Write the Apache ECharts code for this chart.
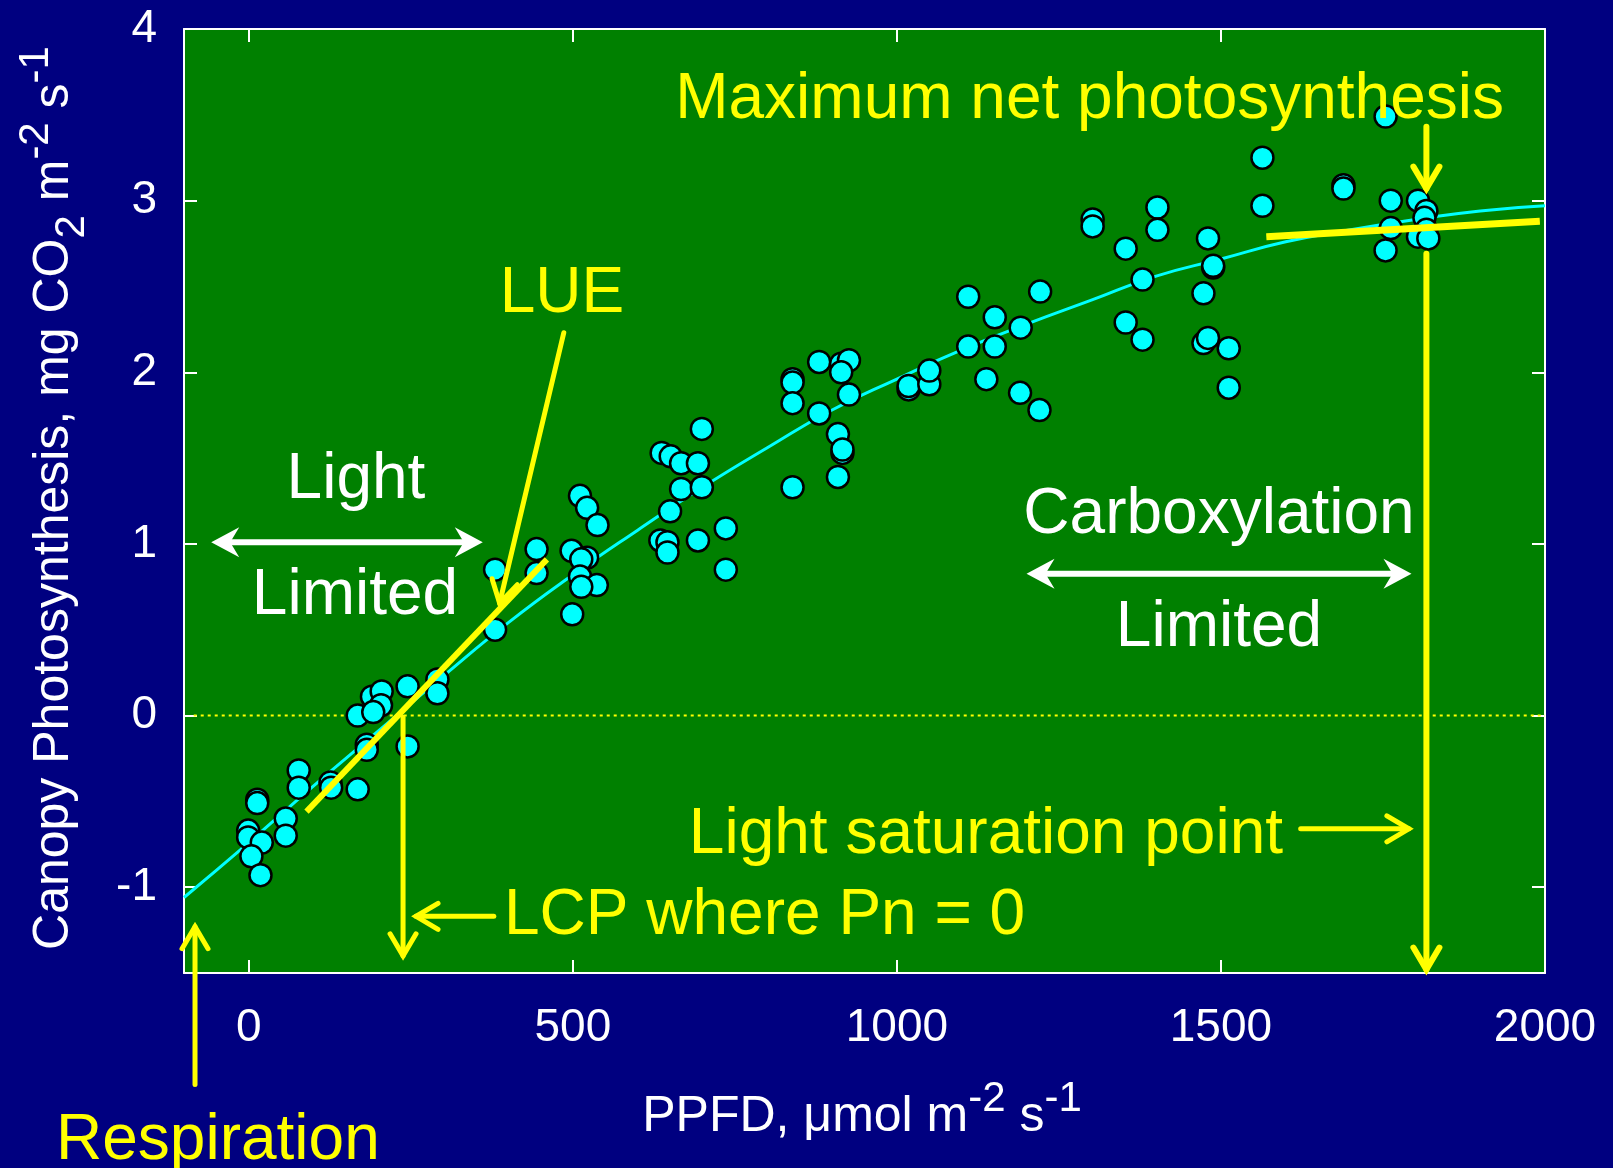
<!DOCTYPE html>
<html>
<head>
<meta charset="utf-8">
<script src="https://cdn.jsdelivr.net/npm/echarts@6/dist/echarts.min.js"></script>
<style>
  html, body { margin: 0; padding: 0; background: #000080; }
  #chart { width: 1613px; height: 1168px; }
</style>
</head>
<body>
<div id="chart"></div>
<script>
const ppfdObs = [
  13, 13, -1, -1, 20, 4, 18, 77, 77, 57, 57, 126, 127, 168, 168, 182, 182, 190, 205, 204, 192, 245, 245, 291, 291,
  380, 380, 444, 444, 511, 522, 538, 498, 522, 513, 511, 537, 513, 499,
  637, 651, 667, 693, 699, 667, 699, 650, 635, 646, 646, 693, 736, 736,
  839, 839, 839, 839, 880, 880, 914, 926, 914, 926, 909, 916, 916, 909, 1018, 1018, 1050, 1050,
  1110, 1151, 1138, 1190, 1220, 1110, 1151, 1191, 1221,
  1302, 1302, 1402, 1402, 1353, 1379, 1353, 1379, 1480, 1488, 1488, 1473, 1473, 1480, 1512, 1512,
  1564, 1564, 1689, 1689, 1762, 1762, 1754, 1804, 1817, 1814, 1817, 1804, 1820, 1754,
];
const pnObs = [
  -0.49, -0.51, -0.67, -0.71, -0.74, -0.82, -0.93, -0.32, -0.42, -0.60, -0.70, -0.39, -0.42, -0.43, 0.00, -0.17, -0.20, 0.11, 0.14, 0.06, 0.02, 0.17, -0.18, 0.21, 0.13,
  0.85, 0.50, 0.97, 0.83, 1.28, 1.21, 1.11, 0.96, 0.92, 0.91, 0.81, 0.76, 0.75, 0.59,
  1.53, 1.51, 1.47, 1.47, 1.67, 1.32, 1.33, 1.19, 1.02, 1.01, 0.95, 1.02, 1.09, 0.85,
  1.96, 1.94, 1.82, 1.33, 2.06, 1.76, 2.05, 2.07, 2.00, 1.87, 1.64, 1.53, 1.55, 1.39, 1.90, 1.92, 1.93, 2.01,
  2.15, 2.15, 1.96, 1.88, 1.78, 2.44, 2.32, 2.26, 2.47,
  2.89, 2.85, 2.96, 2.83, 2.72, 2.54, 2.29, 2.19, 2.78, 2.61, 2.62, 2.46, 2.17, 2.20, 2.14, 1.91,
  3.25, 2.97, 3.09, 3.07, 3.00, 2.84, 2.71, 3.00, 2.94, 2.90, 2.83, 2.79, 2.78, 3.49,
];

// fitted light response curve
const fitPpfd = [-100, 0, 100, 200, 300, 400, 500, 600, 700, 800, 900, 1000, 1100, 1200, 1300, 1400, 1500, 1600, 1700, 1800, 1900, 2000];
const fitPn = [-1.06, -0.74, -0.41, -0.09, 0.23, 0.54, 0.82, 1.08, 1.33, 1.56, 1.78, 1.96, 2.13, 2.28, 2.42, 2.56, 2.66, 2.76, 2.83, 2.89, 2.94, 2.97];

// guide lines
const zeroX = [-85, 2000];
const zeroY = [0, 0];
const lueX = [89, 460];
const lueY = [-0.56, 0.91];
const pmaxX = [1570, 1992];
const pmaxY = [2.79, 2.88];

const xTicks = [0, 500, 1000, 1500, 2000];
const yTicks = [-1, 0, 1, 2, 3, 4];

const FONT = "'Liberation Sans', Arial, Helvetica, sans-serif";
const YELLOW = '#ffff00';
const WHITE = '#ffffff';

const pairs = (xs, ys) => xs.map((x, i) => [x, ys[i]]);

const chart = echarts.init(document.getElementById('chart'), null, { renderer: 'canvas' });

const axisLine = { show: true, onZero: false, lineStyle: { color: WHITE, width: 2 } };
const axisTick = (vals) => ({ show: true, inside: true, length: 13, customValues: vals, lineStyle: { color: WHITE, width: 2 } });

chart.setOption({
  backgroundColor: '#000080',
  animation: false,
  grid: {
    left: 184, top: 29, width: 1361, height: 944,
    show: true, backgroundColor: '#008000', borderWidth: 0,
  },
  xAxis: [
    {
      type: 'value', min: -100, max: 2000, position: 'bottom',
      axisLine, axisTick: axisTick(xTicks), splitLine: { show: false },
      axisLabel: { customValues: xTicks, formatter: (v) => String(v), color: WHITE, fontSize: 46, fontFamily: FONT, margin: 32 },
    },
    {
      type: 'value', min: -100, max: 2000, position: 'top',
      axisLine, axisTick: axisTick(xTicks), splitLine: { show: false }, axisLabel: { show: false },
    },
  ],
  yAxis: [
    {
      type: 'value', min: -1.5, max: 4, position: 'left',
      axisLine, axisTick: axisTick(yTicks), splitLine: { show: false },
      axisLabel: { customValues: yTicks, formatter: (v) => String(v), color: WHITE, fontSize: 46, fontFamily: FONT, margin: 27 },
    },
    {
      type: 'value', min: -1.5, max: 4, position: 'right',
      axisLine, axisTick: axisTick(yTicks), splitLine: { show: false }, axisLabel: { show: false },
    },
  ],
  series: [
    {
      type: 'line', data: pairs(zeroX, zeroY), symbol: 'none', z: 1,
      lineStyle: { color: YELLOW, width: 2, type: [3, 4] },
    },
    {
      type: 'line', data: pairs(fitPpfd, fitPn), symbol: 'none', smooth: true, z: 2,
      lineStyle: { color: '#00ffff', width: 3 },
    },
    {
      type: 'scatter', data: pairs(ppfdObs, pnObs), symbol: 'circle', symbolSize: 22, z: 3,
      itemStyle: { color: '#00ffff', borderColor: '#000000', borderWidth: 2.5, opacity: 1 },
    },
    {
      type: 'line', data: pairs(lueX, lueY), symbol: 'none', z: 4,
      lineStyle: { color: YELLOW, width: 6 },
    },
    {
      type: 'line', data: pairs(pmaxX, pmaxY), symbol: 'none', z: 4,
      lineStyle: { color: YELLOW, width: 7 },
    },
  ],
});

function px(p) {
  return chart.convertToPixel({ gridIndex: 0 }, p);
}

function openArrow(from, to, color, width) {
  const a = px(from), b = px(to);
  const len = Math.hypot(b[0] - a[0], b[1] - a[1]);
  const ux = (b[0] - a[0]) / len, uy = (b[1] - a[1]) / len;
  const back = 22, half = 13;
  const l = [b[0] - ux * back - uy * half, b[1] - uy * back + ux * half];
  const r = [b[0] - ux * back + uy * half, b[1] - uy * back - ux * half];
  const style = { stroke: color, lineWidth: width, fill: 'none', lineCap: 'round', lineJoin: 'miter' };
  return [
    { type: 'polyline', z: 100, shape: { points: [a, b] }, style },
    { type: 'polyline', z: 100, shape: { points: [l, b, r] }, style },
  ];
}

function stealthHead(tip, ux, uy, color) {
  const back = 28, half = 15, notch = 19;
  return {
    type: 'polygon', z: 100,
    shape: {
      points: [
        tip,
        [tip[0] - ux * back - uy * half, tip[1] - uy * back + ux * half],
        [tip[0] - ux * notch, tip[1] - uy * notch],
        [tip[0] - ux * back + uy * half, tip[1] - uy * back - ux * half],
      ],
    },
    style: { fill: color },
  };
}

function doubleArrow(from, to, color) {
  const a = px(from), b = px(to);
  const len = Math.hypot(b[0] - a[0], b[1] - a[1]);
  const ux = (b[0] - a[0]) / len, uy = (b[1] - a[1]) / len;
  return [
    { type: 'line', z: 100, shape: { x1: a[0] + ux * 18, y1: a[1] + uy * 18, x2: b[0] - ux * 18, y2: b[1] - uy * 18 }, style: { stroke: color, lineWidth: 6 } },
    stealthHead(b, ux, uy, color),
    stealthHead(a, -ux, -uy, color),
  ];
}

function label(text, x, y, color, align) {
  return {
    type: 'text', z: 100, x, y: y + 4,
    style: { text, fill: color, font: `64px ${FONT}`, align: align || 'center', verticalAlign: 'middle' },
  };
}

const richBase = {
  b: { fontSize: 50, lineHeight: 78, verticalAlign: 'middle', fontFamily: FONT, fill: WHITE },
  sup: { fontSize: 42, lineHeight: 40, verticalAlign: 'top', fontFamily: FONT, fill: WHITE },
  sub: { fontSize: 42, lineHeight: 64, verticalAlign: 'bottom', fontFamily: FONT, fill: WHITE },
};

const graphics = [
  ...openArrow([486, 2.23], [387, 0.655], YELLOW, 5),
  ...openArrow([238, -0.01], [238, -1.40], YELLOW, 5),
  ...openArrow([378, -1.17], [258, -1.17], YELLOW, 5),
  ...openArrow([-83, -2.15], [-83, -1.23], YELLOW, 5),
  ...openArrow([1817, 3.43], [1817, 3.07], YELLOW, 6),
  ...openArrow([1817, 2.69], [1817, -1.48], YELLOW, 6),
  ...openArrow([1623, -0.66], [1790, -0.66], YELLOW, 5),
  ...doubleArrow([-58, 1.01], [361, 1.01], WHITE),
  ...doubleArrow([1200, 0.826], [1794, 0.826], WHITE),
  label('LUE', 562, 290, YELLOW),
  label('Light', 356, 476, WHITE),
  label('Limited', 355, 592, WHITE),
  label('Carboxylation', 1219, 511, WHITE),
  label('Limited', 1219, 624, WHITE),
  label('Maximum net photosynthesis', 1504, 96, YELLOW, 'right'),
  label('Light saturation point', 1283, 831, YELLOW, 'right'),
  label('LCP where Pn = 0', 504, 912, YELLOW, 'left'),
  label('Respiration', 56, 1137, YELLOW, 'left'),
  {
    type: 'text', z: 100, x: 862, y: 1117,
    style: {
      text: '{b|PPFD, μmol m}{sup|-2}{b| s}{sup|-1}',
      align: 'center', verticalAlign: 'middle', rich: richBase,
    },
  },
  {
    type: 'text', z: 100, x: 54, y: 498, rotation: Math.PI / 2,
    style: {
      text: '{b|Canopy Photosynthesis, mg CO}{sub|2}{b| m}{sup|-2}{b| s}{sup|-1}',
      align: 'center', verticalAlign: 'middle', rich: richBase,
    },
  },
];

chart.setOption({ graphic: graphics });
</script>
</body>
</html>
